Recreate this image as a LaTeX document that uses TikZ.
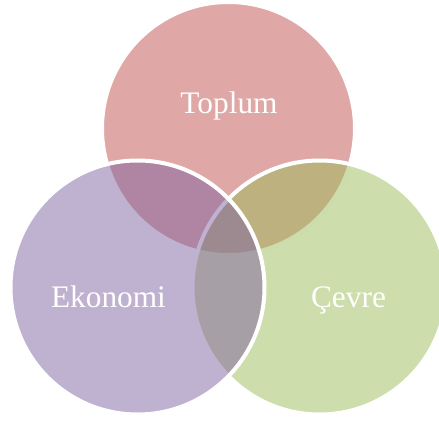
\documentclass[tikz,border=0pt]{standalone}
\usepackage{fontspec}
\setmainfont{Liberation Serif}

\begin{document}
\begin{tikzpicture}[x=0.75pt,y=0.75pt,yscale=-1,xscale=1,
  venn/.style={draw=white, line width=3pt, fill opacity=0.5},
  label/.style={text=white, font=\fontsize{23.5}{28}\selectfont, anchor=base}]
\clip (0,0) rectangle (439,421);

%Circle: Toplum
\draw [venn, fill={rgb, 255:red, 192; green, 80; blue, 77 }] (228.5,128.5) circle [radius=126.5] ;
%Circle: Cevre
\draw [venn, fill={rgb, 255:red, 155; green, 187; blue, 89 }] (319.5,287.5) circle [radius=127] ;
%Circle: Ekonomi
\draw [venn, fill={rgb, 255:red, 128; green, 100; blue, 162 }] (137.5,287.5) circle [radius=127] ;

% Text Node
\node (toplum) [label] at (229,113) {Toplum};
% Text Node
\node (ekonomi) [label] at (108.5,307) {Ekonomi};
% Text Node
\node (cevre) [label] at (348.5,307) {Çevre};

\end{tikzpicture}
\end{document}
